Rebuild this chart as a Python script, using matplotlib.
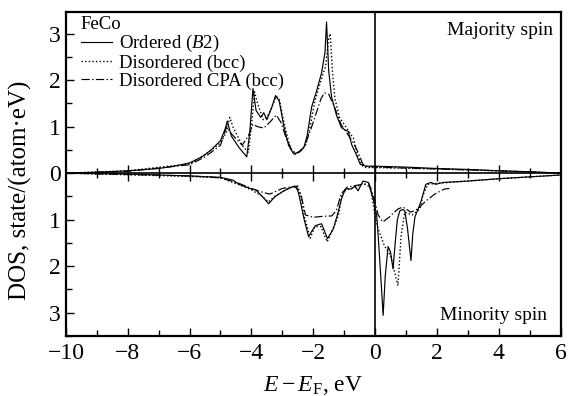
import numpy as np
import matplotlib
matplotlib.use("Agg")
import matplotlib.pyplot as plt
from matplotlib.ticker import MultipleLocator, FuncFormatter

plt.rcParams['font.family'] = ['Liberation Serif', 'DejaVu Serif']
plt.rcParams['mathtext.fontset'] = 'custom'
plt.rcParams['mathtext.rm'] = 'Liberation Serif'
plt.rcParams['mathtext.it'] = 'Liberation Serif:italic'

# majority spin (up), E in eV
e_ord_up = [-10, -9, -8, -7, -6.5, -6, -5.6, -5.3, -5.0, -4.85, -4.78, -4.65, -4.4, -4.15,
            -4.05, -3.95, -3.85, -3.7, -3.6, -3.5, -3.35, -3.22, -3.1, -2.95, -2.8, -2.64,
            -2.45, -2.3, -2.2, -2.05, -1.9, -1.73, -1.62, -1.57, -1.5, -1.41, -1.25, -1.09,
            -0.95, -0.87, -0.75, -0.64, -0.48, -0.3, 0.0, 1, 2, 3, 4, 5, 6]
dos_ord_up = [0.0, 0.02, 0.05, 0.1, 0.15, 0.22, 0.35, 0.5, 0.7, 0.95, 1.12, 0.8, 0.55, 0.35,
              0.9, 1.82, 1.35, 1.2, 1.3, 1.15, 1.4, 1.67, 1.55, 1.0, 0.6, 0.42,
              0.45, 0.56, 0.8, 1.43, 1.75, 2.16, 2.6, 3.25, 2.2, 1.65, 1.25, 0.98,
              0.92, 0.9, 0.6, 0.45, 0.19, 0.15, 0.15, 0.13, 0.1, 0.08, 0.05, 0.03, 0.0]

e_dis_up = [-10, -8, -6, -5.5, -5.0, -4.8, -4.7, -4.6, -4.3, -4.1, -4.0, -3.9, -3.8, -3.62,
            -3.5, -3.35, -3.2, -3.1, -2.95, -2.75, -2.6, -2.4, -2.25, -2.1, -1.95, -1.75,
            -1.6, -1.5, -1.45, -1.38, -1.3, -1.15, -1.0, -0.85, -0.7, -0.55, -0.4, -0.3,
            0, 2, 4, 6]
dos_dis_up = [0.0, 0.05, 0.2, 0.4, 0.65, 0.9, 1.2, 1.0, 0.6, 0.45, 1.0, 1.75, 1.5, 1.15,
              1.2, 1.4, 1.65, 1.6, 1.1, 0.55, 0.4, 0.48, 0.6, 1.0, 1.55, 2.0,
              2.3, 2.9, 3.0, 2.2, 1.6, 1.2, 1.05, 0.9, 0.75, 0.35, 0.15, 0.12,
              0.12, 0.09, 0.05, 0.0]

e_cpa_up = [-10, -8, -6, -5.5, -5.0, -4.8, -4.65, -4.3, -4.1, -3.95, -3.8, -3.6, -3.4, -3.2,
            -3.05, -2.9, -2.7, -2.55, -2.3, -2.1, -1.9, -1.75, -1.64, -1.5, -1.3, -1.1,
            -0.9, -0.7, -0.55, -0.4, -0.3, 0, 1, 2, 4, 6]
dos_cpa_up = [0.0, 0.04, 0.18, 0.35, 0.6, 1.0, 0.85, 0.6, 0.8, 1.05, 1.0, 0.97, 1.1, 1.25,
              1.1, 0.8, 0.5, 0.42, 0.55, 0.9, 1.3, 1.6, 1.73, 1.7, 1.4, 1.05,
              0.85, 0.65, 0.45, 0.2, 0.15, 0.13, 0.11, 0.09, 0.05, 0.0]

# minority spin (down), plotted as negative
e_ord_dn = [-10, -8, -6, -5, -4.6, -4.4, -4.0, -3.86, -3.65, -3.44, -3.3, -3.22, -3.0, -2.7,
            -2.54, -2.45, -2.3, -2.15, -2.05, -1.93, -1.8, -1.73, -1.54, -1.35, -1.2, -1.09,
            -0.96, -0.77, -0.65, -0.55, -0.39, -0.22, -0.06, 0.05, 0.1, 0.2, 0.26, 0.33,
            0.42, 0.5, 0.58, 0.65, 0.72, 0.8, 0.9, 0.96, 1.05, 1.16, 1.22, 1.29, 1.48,
            1.64, 1.8, 1.96, 2.2, 3, 4, 5, 6]
dos_ord_dn = [0, -0.02, -0.06, -0.09, -0.15, -0.24, -0.34, -0.36, -0.5, -0.66, -0.55, -0.5, -0.4, -0.3,
              -0.28, -0.5, -0.98, -1.37, -1.25, -1.13, -1.1, -1.09, -1.41, -1.2, -0.85, -0.56,
              -0.34, -0.34, -0.28, -0.38, -0.17, -0.2, -0.56, -0.9, -1.35, -2.4, -3.06, -2.2,
              -1.58, -1.7, -2.06, -1.5, -1.0, -0.81, -0.78, -0.81, -1.2, -1.88, -1.3, -0.94, -0.62,
              -0.24, -0.2, -0.24, -0.2, -0.17, -0.12, -0.08, -0.04]

e_dis_dn = [-10, -6, -5, -4.4, -4.0, -3.65, -3.45, -3.25, -2.8, -2.5, -2.4, -2.3, -2.1, -1.95,
            -1.75, -1.55, -1.4, -1.19, -1.05, -0.9, -0.6, -0.4, -0.15, 0.0, 0.1, 0.3, 0.5,
            0.62, 0.74, 0.84, 0.96, 1.2, 1.45, 1.54, 1.7, 2.0, 3, 4, 5, 6]
dos_dis_dn = [0, -0.07, -0.1, -0.25, -0.36, -0.5, -0.62, -0.5, -0.32, -0.28, -0.5, -0.9, -1.4, -1.15,
              -1.15, -1.48, -1.25, -0.92, -0.41, -0.35, -0.3, -0.22, -0.3, -0.92, -1.2, -1.56, -1.78,
              -2.1, -2.42, -1.35, -0.84, -0.9, -0.77, -0.49, -0.24, -0.22, -0.17, -0.12, -0.08, -0.04]

e_cpa_dn = [-10, -6, -5, -4.4, -4.0, -3.6, -3.4, -3.0, -2.6, -2.4, -2.25, -2.0, -1.7, -1.4,
            -1.25, -1.1, -0.9, -0.5, -0.2, -0.05, 0.1, 0.25, 0.45, 0.74, 0.9, 1.16, 1.38,
            1.64, 1.93, 2.25, 2.4]
dos_cpa_dn = [0, -0.06, -0.1, -0.22, -0.33, -0.42, -0.45, -0.33, -0.28, -0.45, -0.9, -0.95, -0.93, -0.92,
              -0.8, -0.45, -0.3, -0.25, -0.22, -0.5, -0.9, -1.05, -0.95, -0.77, -0.73, -0.84, -0.77,
              -0.6, -0.45, -0.34, -0.33]

fig = plt.figure(figsize=(5.68, 3.96), dpi=100)
ax = fig.add_axes([0.116, 0.152, 0.871, 0.818])

lw = 0.85
cpa_dash = (0, (7, 2, 1.2, 2))
dot = (0, (1, 1.6))
l1, = ax.plot(e_ord_up, dos_ord_up, color='black', lw=lw, ls='-')
ax.plot(e_ord_dn, dos_ord_dn, color='black', lw=lw, ls='-')
l2, = ax.plot(e_dis_up, dos_dis_up, color='black', lw=1.0, ls=dot)
ax.plot(e_dis_dn, dos_dis_dn, color='black', lw=1.0, ls=dot)
l3, = ax.plot(e_cpa_up, dos_cpa_up, color='black', lw=lw, ls=cpa_dash)
ax.plot(e_cpa_dn, dos_cpa_dn, color='black', lw=lw, ls=cpa_dash)

# axis lines through zero, with crossing ticks on the horizontal one
ax.axhline(0, color='black', lw=1.2)
ax.axvline(0, color='black', lw=1.2)
ticks_even = np.arange(-8, 6, 2)
ticks_odd = np.arange(-9, 6, 2)
ax.plot(ticks_even, np.zeros(len(ticks_even)), ls='none', marker='|', ms=11, mew=1.0, color='black')
ax.plot(ticks_odd, np.zeros(len(ticks_odd)), ls='none', marker='|', ms=7, mew=1.0, color='black')

ax.set_xlim(-10, 6)
ax.set_ylim(-3.5, 3.47)
ax.xaxis.set_major_locator(MultipleLocator(2))
ax.xaxis.set_minor_locator(MultipleLocator(1))
ax.yaxis.set_major_locator(MultipleLocator(1))
ax.yaxis.set_minor_locator(MultipleLocator(0.5))
ax.yaxis.set_major_formatter(FuncFormatter(lambda v, p: '%d' % abs(round(v))))
ax.tick_params(which='both', direction='in', labelsize=17, top=False, right=False)
ax.tick_params(which='major', length=6, width=1.0)
ax.tick_params(which='minor', length=4, width=1.0)
ax.tick_params(axis='x', pad=5)
for s in ax.spines.values():
    s.set_linewidth(1.6)

ax.set_xlabel(r'$E-E_{\mathrm{F}}$, eV', fontsize=17)
ax.xaxis.set_label_coords(0.5, -0.118)
ax.set_ylabel('DOS, state/(atom\u00b7eV)', fontsize=18)
ax.yaxis.set_label_coords(-0.068, 0.45)

ax.text(0.985, 0.929, 'Majority spin', transform=ax.transAxes, ha='right', va='baseline', fontsize=14)
ax.text(0.972, 0.049, 'Minority spin', transform=ax.transAxes, ha='right', va='baseline', fontsize=14)

leg = ax.legend([l1, l2, l3], ['Ordered ($B$2)', 'Disordered (bcc)', 'Disordered CPA (bcc)'],
                title='FeCo', loc='upper left', bbox_to_anchor=(0.022, 1.0), frameon=False,
                fontsize=13.5, title_fontsize=13.5, alignment='left', handlelength=1.7,
                handletextpad=0.37, labelspacing=0.02, borderaxespad=0.0, borderpad=0.2)

fig.savefig('out.png', dpi=100)
